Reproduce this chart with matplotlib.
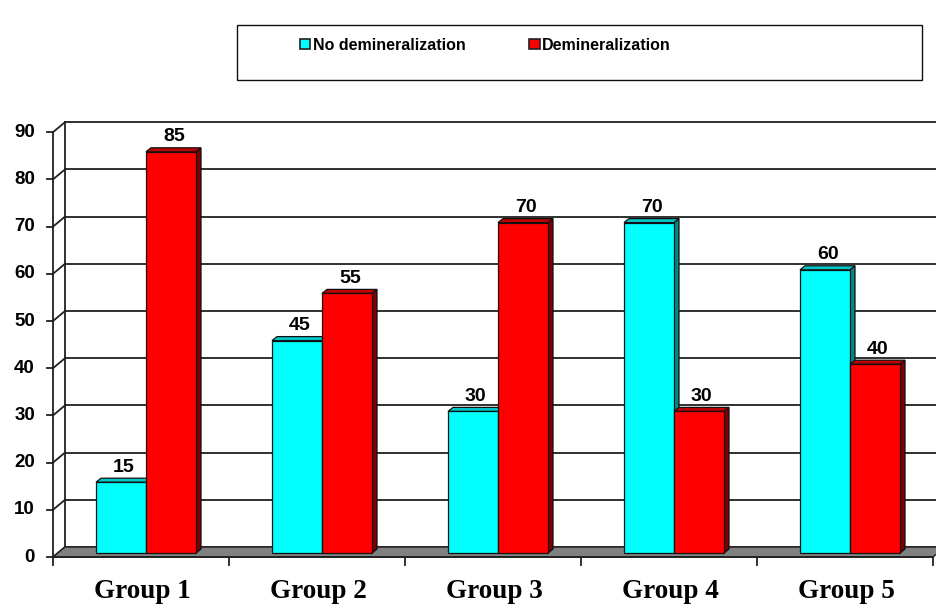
import matplotlib
matplotlib.use("Agg")
import matplotlib.pyplot as plt
from matplotlib.patches import Polygon, Rectangle, Patch

# ---- data ----
groups = ["Group 1", "Group 2", "Group 3", "Group 4", "Group 5"]
no_demin = [15, 45, 30, 70, 60]
demin = [85, 55, 70, 30, 40]
series_names = ["No demineralization", "Demineralization"]
y_ticks = [0, 10, 20, 30, 40, 50, 60, 70, 80, 90]

# ---- styling / layout ----
W_PX, H_PX, DPI = 936, 605, 100
PX_X = 176.0      # px per category unit
PX_Y = 4.72       # px per value unit
X0 = 58.0         # px of x=-0.5 (bar plane)
Y0 = 52.0         # px from bottom of y=0 (bar plane)
FRONT = (-5, -4)  # px offset of front axis plane
WALL = (7, 6)     # px offset of back wall plane
DEPTH = (5, 4)    # px depth of bars
bar_w = 50 / PX_X

face_cols = ["#00FFFF", "#FF0000"]
top_cols = ["#00C8C8", "#C00000"]
side_cols = ["#008B8B", "#800000"]

fig = plt.figure(figsize=(W_PX / DPI, H_PX / DPI), dpi=DPI)
ax = fig.add_axes([0, 0, 1, 1])
ax.axis("off")
ax.set_xlim(-0.5 - X0 / PX_X, -0.5 + (W_PX - X0) / PX_X)
ax.set_ylim(-Y0 / PX_Y, (H_PX - Y0) / PX_Y)

def dx(p): return p / PX_X
def dy(p): return p / PX_Y

n = len(groups)
xl, xr = -0.5, n - 0.5
xmax = ax.get_xlim()[1] + 1
ymax_v = y_ticks[-1]
lc = "#202020"

# back wall gridlines + left wall diagonals
for v in y_ticks:
    wy = v + dy(WALL[1])
    ax.plot([xl + dx(WALL[0]), xmax], [wy, wy], color=lc, lw=1.3, zorder=1)
    ax.plot([xl + dx(FRONT[0]), xl + dx(WALL[0])],
            [v + dy(FRONT[1]), wy], color=lc, lw=1.3, zorder=1)
ax.plot([xl + dx(WALL[0])] * 2, [dy(WALL[1]), ymax_v + dy(WALL[1])], color=lc, lw=1.3, zorder=1)
ax.plot([xl + dx(FRONT[0])] * 2, [dy(FRONT[1]), ymax_v + dy(FRONT[1])], color=lc, lw=1.3, zorder=6)

# floor
floor = Polygon([(xl + dx(FRONT[0]), dy(FRONT[1])),
                 (xr + dx(FRONT[0]), dy(FRONT[1])),
                 (xr + dx(WALL[0]), dy(WALL[1])),
                 (xl + dx(WALL[0]), dy(WALL[1]))],
                closed=True, facecolor="#808080", edgecolor=lc, lw=1.0, zorder=2)
ax.add_patch(floor)

# bars
for i in range(n):
    for k, vals in enumerate([no_demin, demin]):
        v = vals[i]
        x = i + (k - 0.5) * bar_w
        zb = 3 + k * 3
        ax.bar(x, v, width=bar_w, color=face_cols[k], edgecolor="#111111", lw=0.9, zorder=zb + 2)
        left, right = x - bar_w / 2, x + bar_w / 2
        ddx, ddy = dx(DEPTH[0]), dy(DEPTH[1])
        ax.add_patch(Polygon([(left, v), (right, v), (right + ddx, v + ddy), (left + ddx, v + ddy)],
                             closed=True, facecolor=top_cols[k], edgecolor="#111111", lw=0.9, zorder=zb + 1))
        ax.add_patch(Polygon([(right, 0), (right, v), (right + ddx, v + ddy), (right + ddx, ddy)],
                             closed=True, facecolor=side_cols[k], edgecolor="#111111", lw=0.9, zorder=zb))
        ax.annotate(str(v), (x, v), xytext=(2, 7.5), textcoords="offset points",
                    ha="center", va="baseline", fontsize=14, fontweight="bold",
                    family="Liberation Sans", zorder=20)

# front axis line and ticks
ax.plot([xl + dx(FRONT[0]), xr + dx(FRONT[0])], [dy(FRONT[1])] * 2, color=lc, lw=1.3, zorder=12)
for b in range(n + 1):
    bx = b - 0.5 + dx(FRONT[0])
    ax.plot([bx, bx], [dy(FRONT[1]), dy(FRONT[1] - 8)], color=lc, lw=1.3, zorder=12)
for v in y_ticks:
    fx = xl + dx(FRONT[0])
    ax.plot([fx - dx(6), fx], [v + dy(FRONT[1])] * 2, color=lc, lw=1.3, zorder=12)
    ax.text(fx - dx(18), v + dy(FRONT[1]), str(v), ha="right", va="center",
            fontsize=13.5, fontweight="bold", family="Liberation Sans")

for i, g in enumerate(groups):
    ax.text(i + dx(FRONT[0]) + dx(1), dy(FRONT[1] - 41), g, ha="center", va="baseline",
            fontsize=19.5, fontweight="bold", family="Liberation Serif")

# legend
fig.add_artist(Rectangle((237 / W_PX, 525 / H_PX), 685 / W_PX, 55 / H_PX,
                         transform=fig.transFigure, fill=False, edgecolor="#111111", lw=1.0))
handles = [Patch(facecolor=face_cols[k], edgecolor="#222222", lw=1.2) for k in range(2)]
fig.legend(handles, series_names, loc="center left", bbox_to_anchor=(300 / W_PX, 1 - 45 / H_PX),
           ncol=2, frameon=False, handlelength=0.65, handleheight=0.65, handletextpad=0.15,
           columnspacing=4.0, borderaxespad=0, borderpad=0,
           prop={"family": "Liberation Sans", "weight": "bold", "size": 11.5})

fig.savefig("out.png", dpi=DPI)
